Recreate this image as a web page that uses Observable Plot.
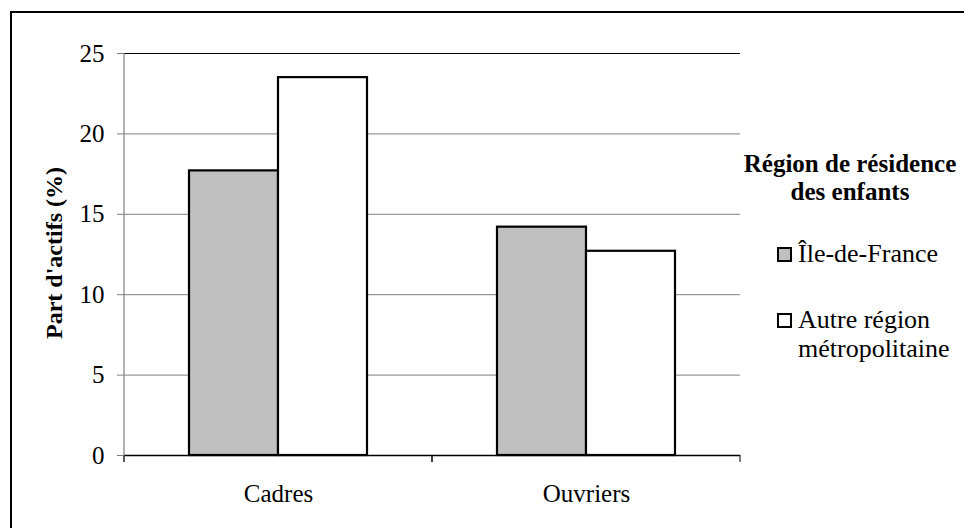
<!DOCTYPE html>
<html>
<head>
<meta charset="utf-8">
<script src="https://cdn.jsdelivr.net/npm/d3@7"></script>
<script src="https://cdn.jsdelivr.net/npm/@observablehq/plot@0.6"></script>
<style>
  html, body { margin: 0; padding: 0; background: #fff; }
  #wrap { position: relative; width: 964px; height: 528px; overflow: hidden; font-family: "Liberation Serif", Tinos, "Times New Roman", Times, "DejaVu Serif", "Noto Serif", serif; color: #000; }
  #border { position: absolute; left: 10px; top: 11px; width: 2000px; height: 2000px; border-top: 2px solid #000; border-left: 2px solid #000; }
  #chart { position: absolute; left: 0; top: 0; }
  #legend { position: absolute; left: 740px; top: 0; width: 224px; }
  .ltitle { position: absolute; left: -4px; width: 228px; text-align: center; font-weight: bold; font-size: 25px; line-height: 28px; }
  .item { position: absolute; left: 37px; font-size: 26px; line-height: 29px; }
  .sw { position: absolute; left: 0; width: 11px; height: 11px; border: 2px solid #000; }
  .txt { position: absolute; left: 21px; white-space: nowrap; }
</style>
</head>
<body>
<div id="wrap">
  <div id="border"></div>
  <div id="chart"></div>
  <div id="legend"></div>
</div>
<script>
const categories = ["Cadres", "Ouvriers"];
const series = ["Île-de-France", "Autre région métropolitaine"];
const idfValues = [17.7, 14.2];
const autreValues = [23.5, 12.7];
const yTicks = [0, 5, 10, 15, 20, 25];
const seriesColors = ["#c0c0c0", "#ffffff"];
const legendTitle = ["Région de résidence", "des enfants"];
const legendLabels = [["Île-de-France"], ["Autre région", "métropolitaine"]];
const yLabel = "Part d'actifs (%)";

const FONT = "'Liberation Serif', Tinos, 'Times New Roman', Times, 'DejaVu Serif', 'Noto Serif', serif";

const data = [];
categories.forEach((c, i) => {
  data.push({cat: c, series: series[0], value: idfValues[i]});
  data.push({cat: c, series: series[1], value: autreValues[i]});
});

let facetCount = 0;
const edgeMark = (index, scales, values, dims) => {
  const g = d3.create("svg:g");
  const x0 = dims.marginLeft, x1 = dims.width - dims.marginRight;
  const y0 = scales.y(0);
  const yTop = scales.y(25);
  if (facetCount === 0) {
    g.append("line").attr("x1", x0).attr("x2", x0).attr("y1", yTop).attr("y2", y0 + 7)
      .attr("stroke", "#808080").attr("stroke-width", 1.2);
  }
  [x0, x1].forEach(x => {
    g.append("line").attr("x1", x).attr("x2", x).attr("y1", y0).attr("y2", y0 + 7)
      .attr("stroke", "#000").attr("stroke-width", 1);
  });
  facetCount++;
  return g.node();
};

const chart = Plot.plot({
  width: 964,
  height: 528,
  marginLeft: 123,
  marginRight: 224,
  marginTop: 53,
  marginBottom: 73,
  style: {fontFamily: FONT, fontSize: "25px", color: "#000", background: "transparent"},
  fx: {domain: categories, padding: 0, label: null},
  x: {domain: series, paddingInner: 0, paddingOuter: 0.73, axis: null},
  y: {domain: [0, 25], label: null},
  color: {domain: series, range: seriesColors},
  marks: [
    Plot.ruleY(yTicks, {stroke: d => d === 25 ? "#000" : "#808080", strokeWidth: 1}),
    Plot.barY(data, {fx: "cat", x: "series", y: "value", fill: "series", stroke: "#000", strokeWidth: 2.2}),
    Plot.ruleY([0], {stroke: "#000", strokeWidth: 1.5}),
    edgeMark,
    Plot.axisY(yTicks, {anchor: "left", tickSize: 7, tickPadding: 13, label: null, stroke: "#808080", fontSize: 25, fontFamily: FONT}),
    Plot.axisFx({anchor: "bottom", tickSize: 0, tickPadding: 29, label: null, fontSize: 25, fontFamily: FONT})
  ]
});
document.getElementById("chart").appendChild(chart);

// y-axis title
const svg = d3.select(chart);
svg.append("text")
  .attr("transform", "translate(56,253) rotate(-90)")
  .attr("text-anchor", "middle")
  .attr("dominant-baseline", "middle")
  .attr("font-weight", "bold")
  .attr("font-size", 24)
  .attr("font-family", FONT)
  .text(yLabel);

// legend
const legend = document.getElementById("legend");
legendTitle.forEach((t, i) => {
  const d = document.createElement("div");
  d.className = "ltitle";
  d.style.top = (150 + i * 28) + "px";
  d.textContent = t;
  legend.appendChild(d);
});
const itemTops = [239, 305];
legendLabels.forEach((lines, i) => {
  const it = document.createElement("div");
  it.className = "item";
  it.style.top = itemTops[i] + "px";
  const sw = document.createElement("div");
  sw.className = "sw";
  sw.style.top = "8px";
  sw.style.background = seriesColors[i];
  it.appendChild(sw);
  lines.forEach((l, j) => {
    const tx = document.createElement("div");
    tx.className = "txt";
    tx.style.top = (j * 29) + "px";
    tx.textContent = l;
    it.appendChild(tx);
  });
  legend.appendChild(it);
});
</script>
</body>
</html>
